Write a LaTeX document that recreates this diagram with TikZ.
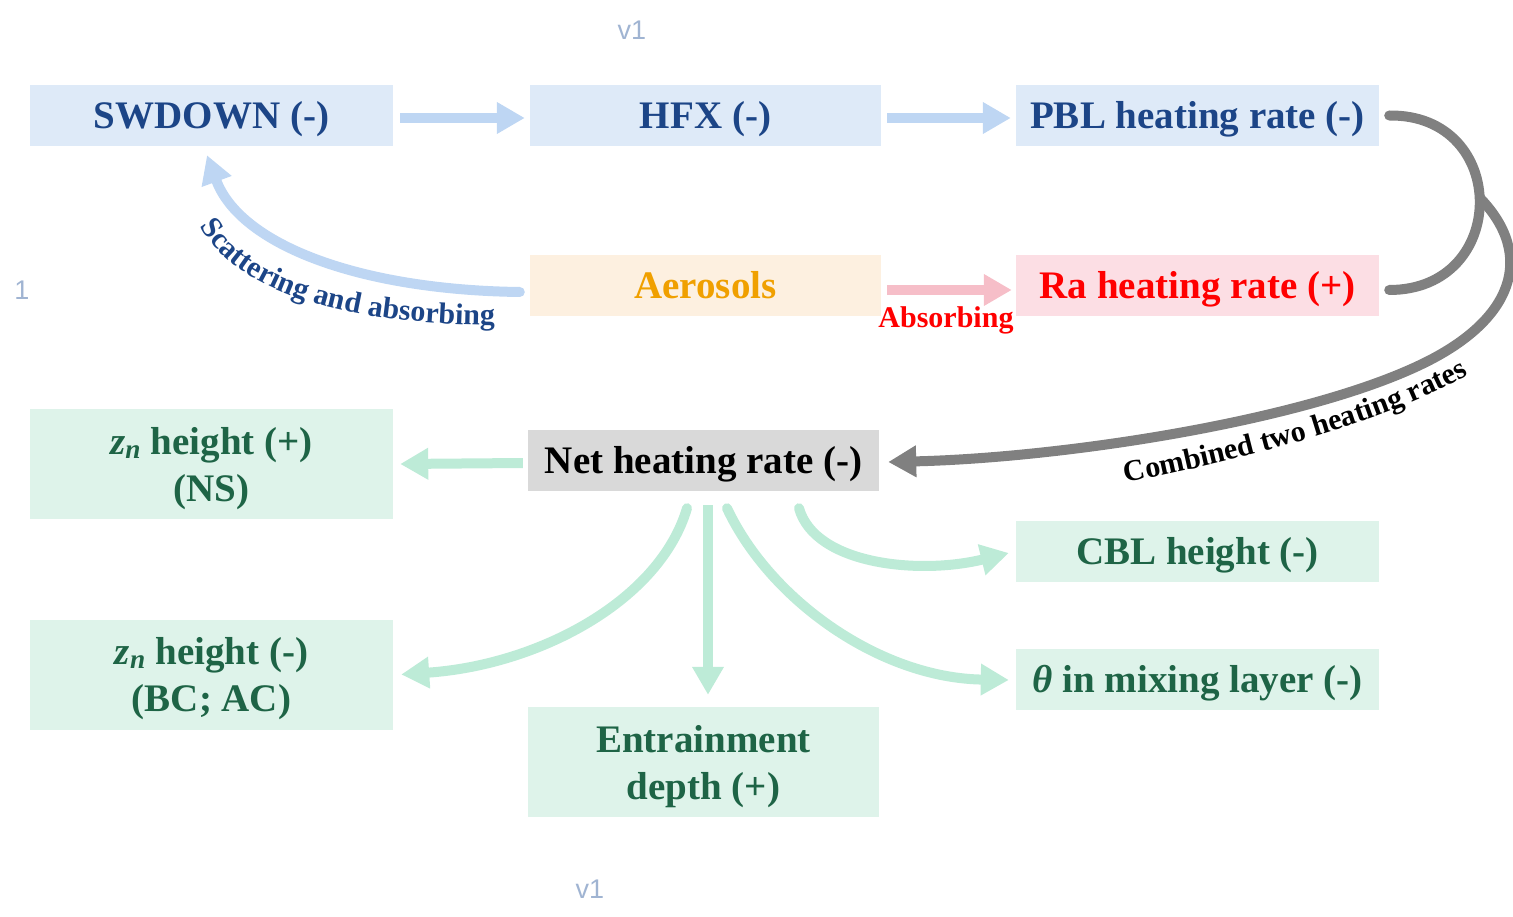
\documentclass[tikz,border=0pt]{standalone}
\usepackage{fontspec}
\setmainfont{Liberation Serif}
\newfontfamily\vsans{Liberation Sans}
\usetikzlibrary{arrows.meta,decorations.text}
\definecolor{fblue}{RGB}{222,234,248}
\definecolor{faer}{RGB}{253,240,224}
\definecolor{fra}{RGB}{252,222,228}
\definecolor{fnet}{RGB}{217,217,217}
\definecolor{fgreen}{RGB}{222,243,234}
\definecolor{tblue}{RGB}{28,69,135}
\definecolor{tgreen}{RGB}{30,100,70}
\definecolor{taer}{RGB}{240,160,0}
\definecolor{tred}{RGB}{255,0,0}
\definecolor{ablue}{RGB}{190,214,243}
\definecolor{apink}{RGB}{246,190,200}
\definecolor{agreen}{RGB}{189,235,215}
\definecolor{agray}{RGB}{128,128,128}
\definecolor{tv}{RGB}{160,180,210}
\tikzset{
  box/.style={rectangle, inner sep=0pt, align=center, font=\bfseries\fontsize{39}{47}\selectfont},
  wide/.style={minimum width=363pt},
  narrow/.style={minimum width=351pt},
  onel/.style={minimum height=61pt, text height=35pt, text depth=9pt},
  twol/.style={minimum height=110pt, text height=83pt, text depth=9pt},
  arr/.style={line width=10pt, -{Triangle[length=28pt,width=30pt]}},
  garr/.style={arr, draw=agreen, line cap=round},
  vlabel/.style={font=\vsans\fontsize{27}{30}\selectfont, text=tv},
}
\newcommand{\zn}{\textit{z}\textsubscript{\textit{n}}}
\begin{document}
\begin{tikzpicture}[x=1pt,y=-1pt]
\useasboundingbox (0,0) rectangle (1513,917);
% nodes
\node[box,wide,onel,fill=fblue,text=tblue] (sw) at (211.5,115.5) {SWDOWN (-)};
\node[box,narrow,onel,fill=fblue,text=tblue] (hfx) at (705.5,115.5) {HFX (-)};
\node[box,wide,onel,fill=fblue,text=tblue] (pbl) at (1197.5,115.5) {PBL heating rate (-)};
\node[box,narrow,onel,fill=faer,text=taer] (aer) at (705.5,286) {Aerosols};
\node[box,wide,onel,fill=fra,text=tred] (ra) at (1197.5,286) {Ra heating rate (+)};
\node[box,narrow,onel,fill=fnet,text=black] (net) at (703.5,460.5) {Net heating rate (-)};
\node[box,wide,twol,fill=fgreen,text=tgreen] (zp) at (211.5,464) {\zn{} height (+)\\(NS)};
\node[box,wide,twol,fill=fgreen,text=tgreen] (zm) at (211.5,674.5) {\zn{} height (-)\\(BC; AC)};
\node[box,narrow,twol,fill=fgreen,text=tgreen] (ent) at (703.5,762) {Entrainment\\depth (+)};
\node[box,wide,onel,fill=fgreen,text=tgreen] (cbl) at (1197.5,551) {CBL height (-)};
\node[box,wide,onel,fill=fgreen,text=tgreen] (th) at (1197.5,679) {\textit{θ} in mixing layer (-)};
% stray labels
\node[vlabel] (v1a) at (632,30) {v1};
\node[vlabel] (v1b) at (590,889) {v1};
\node[vlabel] (one) at (22,290) {1};
% top arrows
\draw[arr,draw=ablue] ([xshift=7pt,yshift=-2.5pt]sw.east) -- ([xshift=-5pt,yshift=-2.5pt]hfx.west);
\draw[arr,draw=ablue] ([xshift=6pt,yshift=-2.5pt]hfx.east) -- ([xshift=-5pt,yshift=-2.5pt]pbl.west);
\draw[arr,draw=apink] ([xshift=6pt,yshift=-4pt]aer.east) -- ([xshift=-4pt,yshift=-4pt]ra.west);
\node[font=\bfseries\fontsize{30}{32}\selectfont, text=tred] (absl) at (946,320) {Absorbing};
% scattering
\draw[arr,draw=ablue,line cap=round] ([xshift=-10pt,yshift=-6pt]aer.west) .. controls (360,290) and (240,245) .. ([xshift=-4.5pt,yshift=-9pt]sw.south);
\path[decorate,decoration={text along path,text align=center,
  text={|\fontsize{30}{31}\selectfont\bfseries\color{tblue}|Scattering and absorbing}}]
  (197,222) .. controls (240,300) and (360,325) .. (500,325);
% gray curves
\draw[line width=10pt,draw=agray,line cap=round] ([xshift=10pt]pbl.east) .. controls (1510,114) and (1510,290) .. ([xshift=10pt,yshift=-4pt]ra.east);
\coordinate (br) at (1480,198);
\draw[arr,draw=agray] (br) .. controls (1535,255) and (1515,320) .. (1420,365) .. controls (1300,422) and (1060,458) .. ([xshift=9pt,yshift=-1.5pt]net.east);
\path[decorate,decoration={text along path,text align=center,
  text={|\fontsize{30}{31}\selectfont\bfseries\color{black}|Combined two heating rates}}]
  (1120,484) .. controls (1250,458) and (1380,425) .. (1474,372);
% green arrows
\draw[arr,draw=agreen] ([xshift=-5pt,yshift=-2.5pt]net.west) -- ([xshift=7pt]zp.east);
\draw[garr] ([xshift=-16.5pt,yshift=-17pt]net.south) .. controls (660,600) and (540,665) .. ([xshift=8pt]zm.east);
\draw[arr,draw=agreen] ([xshift=4.5pt,yshift=-14pt]net.south) -- ([xshift=4.5pt,yshift=12pt]ent.north);
\draw[garr] ([xshift=23.5pt,yshift=-17pt]net.south) .. controls (770,600) and (880,678) .. ([xshift=-7pt,yshift=-1pt]th.west);
\draw[garr] ([xshift=95.5pt,yshift=-17pt]net.south) .. controls (815,565) and (920,575) .. ([xshift=-7pt,yshift=-2pt]cbl.west);
\end{tikzpicture}
\end{document}
